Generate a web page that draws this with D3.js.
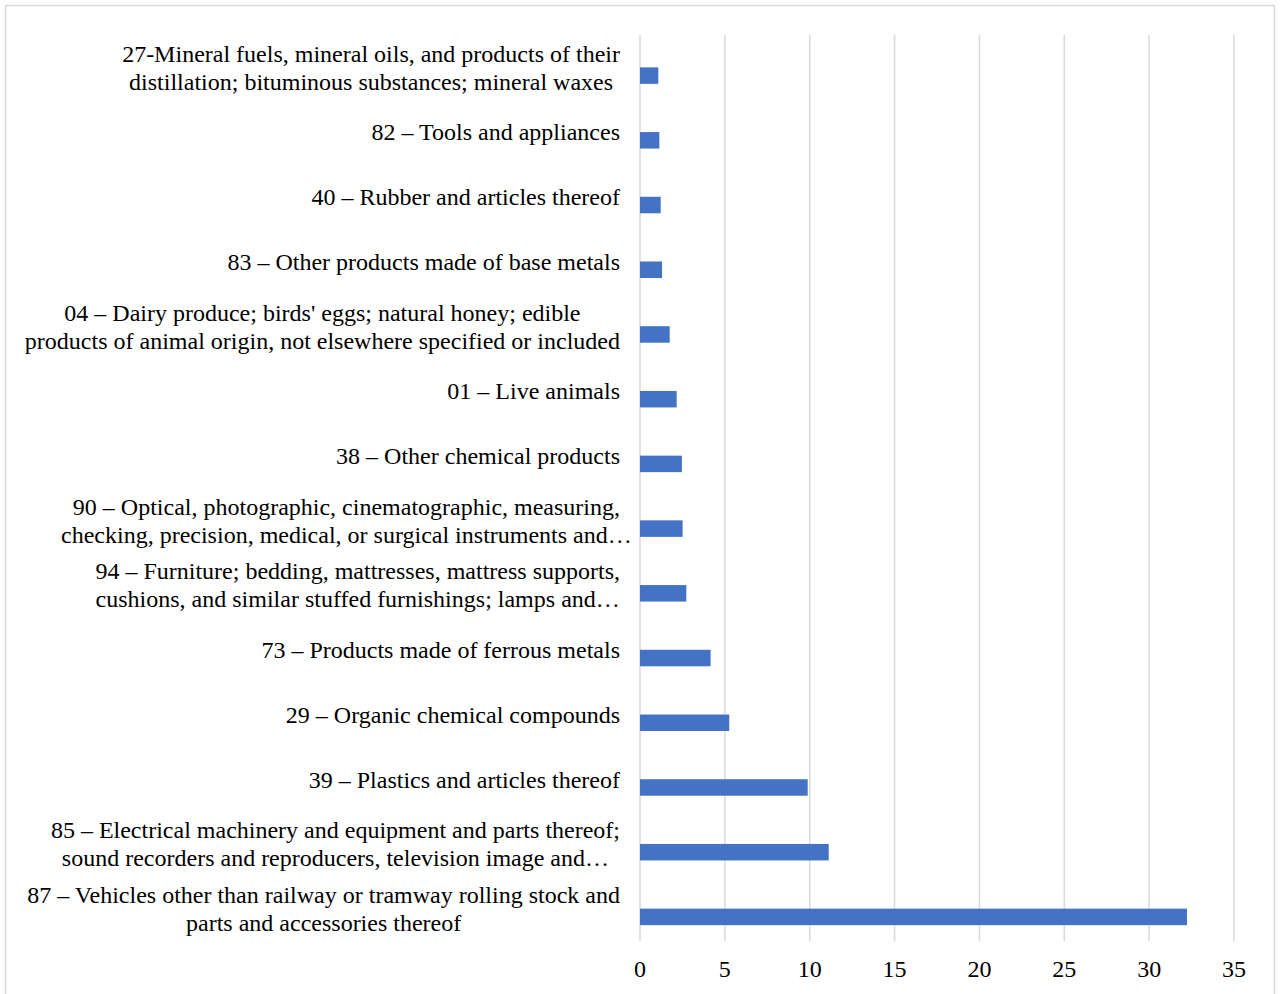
<!DOCTYPE html>
<html>
<head>
<meta charset="utf-8">
<script src="https://cdn.jsdelivr.net/npm/d3@7"></script>
<style>
  html, body { margin: 0; padding: 0; background: #fff; }
  svg { display: block; }
  text { font-family: "Liberation Serif", "Times New Roman", serif; fill: #000; }
</style>
</head>
<body>
<script>
// Categories, top to bottom (each label split into its display lines)
const categories = [
  ["27-Mineral fuels, mineral oils, and products of their", "distillation; bituminous substances; mineral waxes"],
  ["82 – Tools and appliances"],
  ["40 – Rubber and articles thereof"],
  ["83 – Other products made of base metals"],
  ["04 – Dairy produce; birds' eggs; natural honey; edible", "products of animal origin, not elsewhere specified or included"],
  ["01 – Live animals"],
  ["38 – Other chemical products"],
  ["90 – Optical, photographic, cinematographic, measuring,", "checking, precision, medical, or surgical instruments and…"],
  ["94 – Furniture; bedding, mattresses, mattress supports,", "cushions, and similar stuffed furnishings; lamps and…"],
  ["73 – Products made of ferrous metals"],
  ["29 – Organic chemical compounds"],
  ["39 – Plastics and articles thereof"],
  ["85 – Electrical machinery and equipment and parts thereof;", "sound recorders and reproducers, television image and…"],
  ["87 – Vehicles other than railway or tramway rolling stock and", "parts and accessories thereof"]
];
const values = [1.08, 1.14, 1.22, 1.30, 1.75, 2.16, 2.47, 2.51, 2.73, 4.16, 5.26, 9.88, 11.12, 32.23];
const xTicks = [0, 5, 10, 15, 20, 25, 30, 35];

const W = 1280, H = 994;
const plot = { left: 640, right: 1234, top: 35, bottom: 941 };
const labelRight = 620;
const fontSize = 24;
const lineGap = 28;

const svg = d3.select("body").append("svg").attr("width", W).attr("height", H);

// chart border
svg.append("rect")
  .attr("x", 5.5).attr("y", 5.5).attr("width", 1269).attr("height", 1010)
  .attr("fill", "none").attr("stroke", "#d9d9d9").attr("stroke-width", 1.5);

const keys = categories.map((c, i) => "c" + i);
const x = d3.scaleLinear().domain([0, 35]).range([plot.left, plot.right]);
const y = d3.scaleBand().domain(keys).range([plot.top, plot.bottom])
  .paddingInner(0.49).paddingOuter(0.245);
// two slots per category; the visible series occupies the lower slot
const ySub = d3.scaleBand().domain(["s0", "s1"]).range([0, y.bandwidth()]);

// gridlines
svg.append("g").selectAll("line").data(xTicks).join("line")
  .attr("x1", d => x(d)).attr("x2", d => x(d))
  .attr("y1", plot.top).attr("y2", plot.bottom)
  .attr("stroke", "#d9d9d9").attr("stroke-width", 1.5);

// x tick labels
svg.append("g").selectAll("text").data(xTicks).join("text")
  .attr("x", d => x(d)).attr("y", 969).attr("dy", "0.35em")
  .attr("text-anchor", "middle").attr("font-size", fontSize)
  .text(d => d);

// bars
svg.append("g").selectAll("rect").data(values).join("rect")
  .attr("x", x(0))
  .attr("y", (d, i) => y(keys[i]) + ySub("s1"))
  .attr("width", d => x(d) - x(0))
  .attr("height", ySub.bandwidth())
  .attr("fill", "#4472C4");

// category labels
const lg = svg.append("g");
// width of the ellipsis glyph (truncated lines overflow by it)
const probe = lg.append("text").attr("font-size", fontSize).text("…");
const ellW = probe.node().getComputedTextLength();
probe.remove();
categories.forEach((lines, i) => {
  const cy = y(keys[i]) + y.bandwidth() / 2;
  const g = lg.append("g");
  const texts = lines.map((ln, j) => g.append("text")
    .attr("font-size", fontSize)
    .attr("text-anchor", "middle")
    .attr("y", cy + (j - (lines.length - 1) / 2) * lineGap)
    .attr("dy", "0.35em")
    .text(ln));
  const maxW = d3.max(texts, t => t.node().getComputedTextLength() - (t.text().endsWith("…") ? ellW : 0));
  texts.forEach(t => t.attr("x", labelRight - maxW / 2));
});
</script>
</body>
</html>
